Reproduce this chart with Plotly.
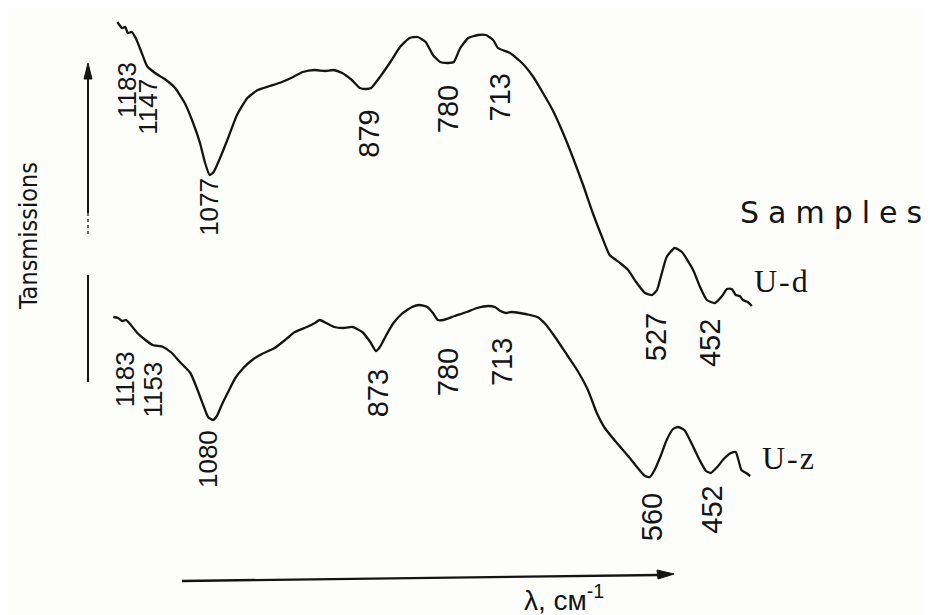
import plotly.graph_objects as go

# ---- data (wavenumber cm-1, transmission arb. units) ----
ud_wn = [1194, 1188, 1184, 1181, 1176, 1171, 1164, 1157, 1147, 1135, 1122, 1110, 1100, 1091,
         1085, 1079, 1074, 1066, 1056, 1045, 1032, 1019, 1004, 989, 975, 963, 948, 935, 925,
         914, 902, 892, 884, 878, 867, 854, 842, 830, 820, 810, 801, 792, 782, 775, 767, 757,
         745, 735, 726, 720, 705, 690, 676, 664, 652, 639, 627, 614, 602, 590, 581, 568, 558,
         548, 537, 528, 522, 517, 510, 500, 491, 477, 469, 460, 450, 441, 435, 429, 424, 419,
         415, 409, 404]
ud_t = [59.3, 58.7, 58.8, 58.2, 58.3, 57.7, 56.3, 54.9, 54.2, 53.6, 52.7, 51.2, 49.3, 47.2,
        45.3, 44.0, 44.3, 45.7, 47.7, 50.0, 51.7, 52.5, 52.9, 53.3, 53.8, 54.3, 54.5, 54.4, 54.5,
        54.2, 53.5, 52.7, 52.6, 52.7, 53.8, 55.3, 56.8, 57.7, 57.8, 57.3, 56.0, 55.3, 55.2, 55.3,
        56.7, 57.7, 58.0, 58.0, 57.5, 56.7, 56.2, 55.2, 53.8, 52.2, 50.5, 48.2, 45.8, 43.0, 40.2,
        37.7, 36.0, 35.2, 34.5, 33.3, 32.2, 32.0, 32.5, 33.9, 35.8, 36.7, 36.3, 34.5, 32.9, 31.5,
        31.2, 31.9, 32.6, 32.6, 32.0, 31.9, 31.5, 31.3, 30.9]

uz_wn = [1199, 1193, 1188, 1183, 1178, 1169, 1159, 1150, 1137, 1126, 1116, 1103, 1095, 1087,
         1081, 1075, 1070, 1064, 1056, 1047, 1037, 1026, 1014, 998, 985, 973, 958, 948, 942,
         934, 924, 913, 901, 889, 879, 872, 867, 859, 851, 840, 827, 818, 808, 801, 795, 788,
         774, 759, 746, 732, 724, 717, 710, 703, 693, 680, 671, 661, 649, 634, 620, 608, 597,
         587, 572, 559, 547, 537, 531, 525, 517, 510, 502, 496, 488, 478, 469, 461, 455, 447,
         439, 430, 424, 420, 417, 411, 406]
uz_t = [29.8, 29.7, 29.4, 29.5, 29.1, 28.2, 27.5, 27.0, 26.8, 26.2, 25.3, 24.2, 22.7, 21.0,
        19.8, 19.5, 19.9, 21.0, 22.3, 23.7, 24.7, 25.5, 26.1, 26.7, 27.5, 28.3, 28.8, 29.2, 29.5,
        29.2, 28.8, 28.7, 28.8, 28.3, 27.3, 26.4, 26.8, 28.0, 29.1, 30.1, 30.8, 31.0, 30.8, 30.2,
        29.5, 29.5, 29.9, 30.3, 30.7, 30.9, 30.8, 30.4, 30.2, 30.3, 30.2, 30.0, 29.8, 29.1, 27.8,
        26.0, 24.3, 22.5, 20.2, 18.7, 17.2, 16.0, 14.8, 13.9, 13.8, 14.5, 16.0, 17.5, 18.6, 18.8,
        18.5, 17.0, 15.5, 14.4, 14.2, 14.8, 15.6, 16.2, 16.3, 15.3, 14.5, 14.2, 13.9]

# peak labels: text, label position (wn, T)
ud_labels = ["1183", "1147", "1077", "879", "780", "713", "527", "452"]
ud_lab_wn = [1182, 1156, 1080, 881, 782, 717, 523, 456]
ud_lab_t = [52.5, 50.8, 40.8, 48.1, 50.6, 51.8, 27.8, 27.2]

uz_labels = ["1183", "1153", "1080", "873", "780", "713", "560", "452"]
uz_lab_wn = [1184, 1150, 1081, 869, 782, 715, 528, 454]
uz_lab_t = [23.6, 22.5, 15.6, 22.2, 24.3, 25.3, 9.8, 10.5]

series_names = ["U-d", "U-z"]

W, H, OFF = 930, 615, 8  # page body margin shifts the figure by OFF px


def px(x):
    return (x - OFF) / W


def py(y):
    return 1 - (y - OFF) / H


INK = "#141414"
fig = go.Figure()
for wn, t, name in [(ud_wn, ud_t, series_names[0]), (uz_wn, uz_t, series_names[1])]:
    fig.add_trace(go.Scatter(x=wn, y=t, mode="lines", name=name,
                             line=dict(color=INK, width=2.3, shape="spline", smoothing=0.5),
                             hoverinfo="skip", showlegend=False))

ann = []
for labs, xs, ys in [(ud_labels, ud_lab_wn, ud_lab_t), (uz_labels, uz_lab_wn, uz_lab_t)]:
    for s, x, y in zip(labs, xs, ys):
        ann.append(dict(x=x, y=y, xref="x", yref="y", text=s, showarrow=False,
                        textangle=-90, xanchor="center", yanchor="middle",
                        font=dict(family="Liberation Sans, Arial", size=26 if len(s) == 4 else 29,
                                  color=INK)))

ann.append(dict(x=px(28), y=py(236), xref="paper", yref="paper", text="Tansmissions",
                showarrow=False, textangle=-90, xanchor="center", yanchor="middle",
                font=dict(family="Liberation Sans Narrow, DejaVu Sans Condensed, Liberation Sans",
                          size=25, color=INK)))
ann.append(dict(x=px(835), y=py(213), xref="paper", yref="paper",
                text='<span style="letter-spacing:9px">Samples</span>',
                showarrow=False, xanchor="center", yanchor="middle",
                font=dict(family="DejaVu Sans", size=30, color=INK)))
ann.append(dict(x=px(782), y=py(281), xref="paper", yref="paper",
                text='<span style="letter-spacing:2px">U-d</span>',
                showarrow=False, xanchor="center", yanchor="middle",
                font=dict(family="Liberation Serif", size=32, color=INK)))
ann.append(dict(x=px(789), y=py(458), xref="paper", yref="paper",
                text='<span style="letter-spacing:2px">U-z</span>',
                showarrow=False, xanchor="center", yanchor="middle",
                font=dict(family="Liberation Serif", size=32, color=INK)))
ann.append(dict(x=px(564), y=py(598), xref="paper", yref="paper",
                text="λ, см<sup>-1</sup>",
                showarrow=False, xanchor="center", yanchor="middle",
                font=dict(family="Liberation Sans", size=28, color=INK)))

# axis arrows (decorations)
shapes = [
    dict(type="line", xref="paper", yref="paper", x0=px(88), x1=px(88),
         y0=py(75), y1=py(213), line=dict(color=INK, width=2)),
    dict(type="line", xref="paper", yref="paper", x0=px(88), x1=px(88),
         y0=py(213), y1=py(236), line=dict(color="#666", width=2, dash="dot")),
    dict(type="path", xref="paper", yref="paper",
         path=f"M {px(88)},{py(63)} L {px(84)},{py(79)} L {px(92)},{py(79)} Z",
         fillcolor=INK, line=dict(color=INK, width=1)),
    dict(type="line", xref="paper", yref="paper", x0=px(88), x1=px(88),
         y0=py(275), y1=py(382), line=dict(color=INK, width=2)),
    dict(type="line", xref="paper", yref="paper", x0=px(182), x1=px(660),
         y0=py(581), y1=py(575), line=dict(color=INK, width=2.4)),
    dict(type="path", xref="paper", yref="paper",
         path=f"M {px(674)},{py(574)} L {px(657)},{py(570)} L {px(658)},{py(579)} Z",
         fillcolor=INK, line=dict(color=INK, width=1)),
]

fig.update_layout(
    width=W, height=H,
    margin=dict(l=0, r=0, t=0, b=0),
    paper_bgcolor="#fdfdfb", plot_bgcolor="#fdfdfb",
    xaxis=dict(range=[1340 - 1.245 * OFF, 1340 - 1.245 * (OFF + W)], visible=False),
    yaxis=dict(range=[61.5 - (OFF + H) / 10, 61.5 - OFF / 10], visible=False),
    annotations=ann, shapes=shapes,
)
fig.write_html("out.html")
